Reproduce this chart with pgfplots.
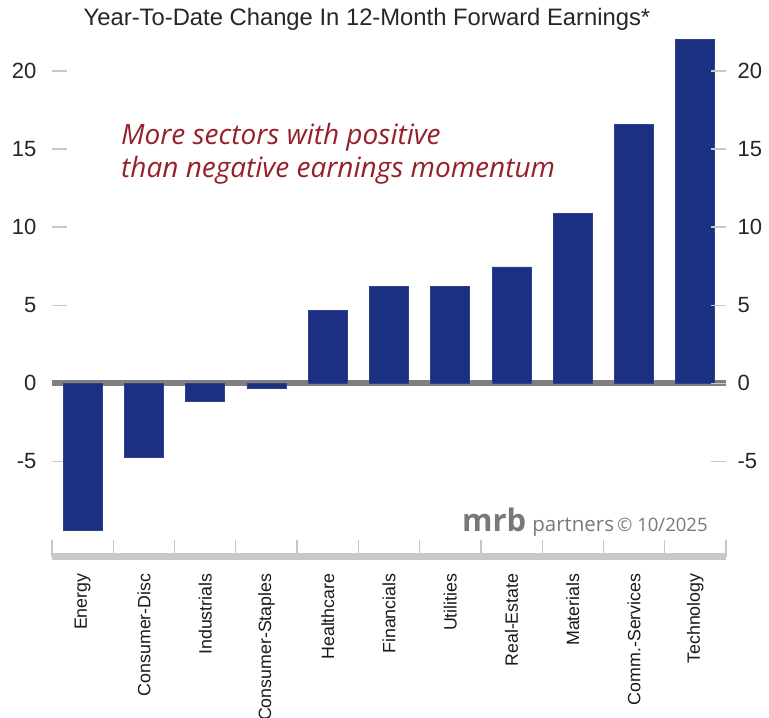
\documentclass[border=0pt]{standalone}
\usepackage{fontspec}
\setmainfont{Liberation Sans}
\newfontfamily\notefont{Open Sans}
\newfontfamily\markfont{Open Sans}
\usepackage{pgfplots}
\pgfplotsset{compat=1.18}

\definecolor{barblue}{RGB}{27,48,128}
\definecolor{baredge}{RGB}{45,65,145}
\definecolor{notered}{RGB}{150,32,42}
\definecolor{tickgray}{RGB}{200,200,200}
\definecolor{zerogray}{RGB}{128,128,128}
\definecolor{markgray}{RGB}{120,120,120}

\pgfplotsset{
  sectorframe/.style={
    at={(52pt,161pt)}, anchor=south west,
    width=674pt, height=520pt, scale only axis,
    xmin=-0.5, xmax=10.5, ymin=-11.13, ymax=22.18,
    axis line style={draw=none},
    ytick={-5,0,5,10,15,20},
    yticklabels={-5,0,5,10,15,20},
    tick align=inside,
    major tick length=15pt,
    tick style={tickgray, line width=1.3pt},
    yticklabel style={font=\fontsize{22}{24}\selectfont, text=black!85},
    clip=false,
  }
}

\begin{document}
\begin{tikzpicture}
\useasboundingbox (0pt,0pt) rectangle (769pt,718pt);

\begin{axis}[sectorframe,
  ytick pos=left, yticklabel pos=left,
  yticklabel style={xshift=-12pt},
  xtick={0,...,10},
  xticklabels={Energy,Consumer-Disc,Industrials,Consumer-Staples,Healthcare,Financials,Utilities,Real-Estate,Materials,Comm.-Services,Technology},
  xtick pos=lower,
  major x tick style={draw=none},
  xticklabel style={rotate=90, anchor=east, font=\fontsize{17.8}{20}\selectfont, text=black!90},
  xticklabel shift=-2pt,
  ybar, bar width=39pt,
]
\draw[zerogray, line width=6pt] (axis cs:-0.5,0) -- (axis cs:10.5,0);
\addplot[fill=barblue, draw=baredge, line width=0.8pt] coordinates {
  (0,-9.4) (1,-4.75) (2,-1.15) (3,-0.35) (4,4.65) (5,6.2)
  (6,6.2) (7,7.45) (8,10.9) (9,16.6) (10,22.0)
};
\pgfplotsinvokeforeach{-0.5,0.5,1.5,2.5,3.5,4.5,5.5,6.5,7.5,8.5,9.5,10.5}{
  \draw[tickgray, line width=1.3pt] (axis cs:#1,-11.13) -- ++(0pt,17pt);
}
\draw[tickgray, line width=7pt] (axis cs:-0.5,-11.13) -- (axis cs:10.5,-11.13);
\end{axis}

\begin{axis}[sectorframe,
  ytick pos=right, yticklabel pos=right,
  yticklabel style={xshift=8pt},
  xtick=\empty,
]
\end{axis}

\node[font=\fontsize{23.8}{26}\selectfont, text=black!85] at (367pt,699pt)
  {Year-To-Date Change In 12-Month Forward Earnings*};

\node[anchor=base west, inner sep=0, text=notered,
  font=\notefont\itshape\fontsize{28}{32}\selectfont] at (121pt,573pt)
  {More sectors with positive};
\node[anchor=base west, inner sep=0, text=notered,
  font=\notefont\itshape\fontsize{28}{32}\selectfont] at (121pt,540pt)
  {than negative earnings momentum};

\node[anchor=base west, inner sep=0, text=markgray] at (462pt,186pt)
  {\markfont{\bfseries\fontsize{31}{31}\selectfont mrb}\hspace{6pt}{\fontsize{20.5}{22}\selectfont partners}\hspace{3pt}{\fontsize{18.5}{22}\selectfont © 10/2025}};
\end{tikzpicture}
\end{document}
